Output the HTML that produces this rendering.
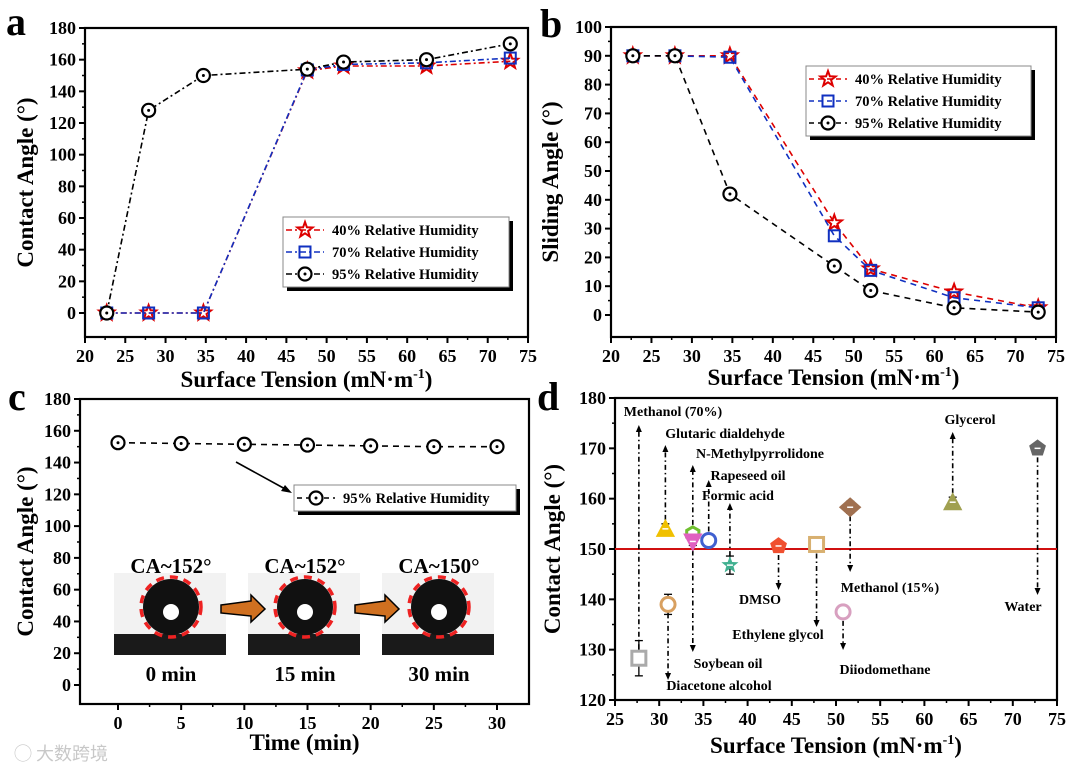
<!DOCTYPE html>
<html><head><meta charset="utf-8"><style>
body{margin:0;background:#fff;width:1080px;height:772px;overflow:hidden}
svg{display:block;font-family:"Liberation Serif","Noto Serif CJK SC",serif;font-weight:bold}
</style></head><body>
<svg id="fig" width="1080" height="772" viewBox="0 0 1080 772"></svg>
<script>
// ---- data ----
const tensionA=[22.7,27.9,34.7,47.6,52.1,62.4,72.8];
const caA40=[0,0,0,153,156,156,159];
const caA70=[0,0,0,153.5,157,158,161];
const caA95=[0,128,150,154,158.5,160,170];
const tensionB=[22.7,27.9,34.7,47.6,52.1,62.4,72.8];
const saB40=[90,90,90,32,16,8,2.5];
const saB70=[90,90,89.5,27.5,15.5,6,2.5];
const saB95=[90,90,42,17,8.5,2.5,1];
const timeC=[0,5,10,15,20,25,30];
const caC95=[152.5,152,151.5,151,150.5,150,150];
const liquidsD=["Methanol (70%)","Glutaric dialdehyde","Diacetone alcohol","N-Methylpyrrolidone","Soybean oil","Rapeseed oil","Formic acid","DMSO","Ethylene glycol","Methanol (15%)","Diiodomethane","Glycerol","Water"];
const tensionD=[27.7,30.7,31.0,33.8,33.8,35.6,38.0,43.5,47.8,51.6,50.8,63.2,72.8];
const caD=[128.3,154,139,153,151.5,151.7,146.8,150.6,150.9,158.3,137.5,159.3,170];
const errD=[3.5,1,2,0.8,0.8,0.6,1.8,0.6,1.2,1.2,1.3,1,0.5];
const ticksA=[0,20,40,60,80,100,120,140,160,180];
const ticksB=[0,10,20,30,40,50,60,70,80,90,100];
const ticksX=[20,25,30,35,40,45,50,55,60,65,70,75];
const ticksXD=[25,30,35,40,45,50,55,60,65,70,75];
const ticksYD=[120,130,140,150,160,170,180];
const ticksXC=[0,5,10,15,20,25,30];

const svg=document.getElementById('fig');
const NS='http://www.w3.org/2000/svg';
function el(tag,attrs,parent,text){const e=document.createElementNS(NS,tag);for(const k in attrs)e.setAttribute(k,attrs[k]);if(text!==undefined)e.textContent=text;(parent||svg).appendChild(e);return e;}
function lin(d0,d1,p0,p1){return v=>p0+(v-d0)*(p1-p0)/(d1-d0);}

function marker(g,type,x,y,color,fill){
  const s=6.5;let m;
  if(type==='circle'){m=el('g',{},g);
    el('circle',{cx:x,cy:y,r:s,fill:'#fff',stroke:color,'stroke-width':2.2},m);
    el('circle',{cx:x,cy:y,r:1.5,fill:color},m);}
  else if(type==='square'){m=el('rect',{x:x-s+1,y:y-s+1,width:2*s-2,height:2*s-2,fill:fill||'none',stroke:color,'stroke-width':2},g);}
  else if(type==='star'){let p=[];for(let i=0;i<10;i++){const r=i%2?3.3:8,a=-Math.PI/2+i*Math.PI/5;p.push((x+r*Math.cos(a)).toFixed(1)+','+(y+r*Math.sin(a)).toFixed(1));}
    m=el('polygon',{points:p.join(' '),fill:'none',stroke:color,'stroke-width':2},g);}
  return m;
}

function axes(o){
  const g=el('g',{},svg);
  
  
  el('rect',{x:o.x0,y:o.y0,width:o.x1-o.x0,height:o.y1-o.y0,fill:'none',stroke:'#000','stroke-width':2.2},g);
  o.xt.forEach((t,i)=>{const x=o.sx(t);el('line',{x1:x,y1:o.y1,x2:x,y2:o.y1+6,stroke:'#000','stroke-width':2},g);
    if(i<o.xt.length-1){const xm=o.sx(t+(o.xt[1]-o.xt[0])/2);el('line',{x1:xm,y1:o.y1,x2:xm,y2:o.y1+3,stroke:'#000','stroke-width':1.5},g);}
    el('text',{x:x,y:o.y1+25,'text-anchor':'middle','font-size':18},g,t);});
  o.yt.forEach((t,i)=>{const y=o.sy(t);el('line',{x1:o.x0,y1:y,x2:o.x0-6,y2:y,stroke:'#000','stroke-width':2},g);
    if(i<o.yt.length-1){const ym=o.sy(t+(o.yt[1]-o.yt[0])/2);el('line',{x1:o.x0,y1:ym,x2:o.x0-3,y2:ym,stroke:'#000','stroke-width':1.5},g);}
    el('text',{x:o.x0-9,y:y+6,'text-anchor':'end','font-size':18},g,t);});
  const xt=el('text',{x:(o.x0+o.x1)/2,y:o.xty,'text-anchor':'middle','font-size':23},g);
  
  
  xt.innerHTML=o.xtitle;
  const yt=el('text',{x:o.ytx,y:(o.y0+o.y1)/2,'text-anchor':'middle','font-size':23,transform:`rotate(-90 ${o.ytx} ${(o.y0+o.y1)/2})`},g,o.ytitle);
  
  
  const pl=el('text',{x:o.lx,y:o.ly,'font-size':40},g,o.letter);
  
  
}
const ST='Surface Tension (mN·m<tspan dy="-9" font-size="14">-1</tspan><tspan dy="9">)</tspan>';

function series(xs,ys,sx,sy,color,dash,type,name){
  const g=el('g',{},svg);
  
  
  const pts=[];xs.forEach((x,i)=>{if(ys[i]!==null)pts.push([sx(x),sy(ys[i])]);});
  el('polyline',{points:pts.map(p=>p.join(',')).join(' '),fill:'none',stroke:color,'stroke-width':1.6,'stroke-dasharray':dash},g);
  pts.forEach(p=>{const m=marker(g,type,p[0],p[1],color);
    
    });
}
function legend(x,y,w,entries,dash,name){
  const g=el('g',{},svg);
  
  
  const h=entries.length*22+4;
  el('rect',{x:x+4,y:y+4,width:w,height:h,fill:'#000'},g);
  el('rect',{x:x,y:y,width:w,height:h,fill:'#fff',stroke:'#888','stroke-width':1},g);
  entries.forEach((e,i)=>{const yy=y+13+i*22;
    el('line',{x1:x+3,y1:yy,x2:x+41,y2:yy,stroke:e[1],'stroke-width':1.6,'stroke-dasharray':dash},g);
    marker(g,e[2],x+22,yy,e[1]);
    const t=el('text',{x:x+49,y:yy+5,'font-size':14.5},g,e[0]);
    
    });
}

// ---- panel a ----
const axSX=lin(20,75,85,528), aSY=lin(0,180,313,28);
axes({name:'panel-a',x0:85,x1:528,y0:28,y1:337,sx:axSX,sy:aSY,xt:ticksX,yt:ticksA,xtitle:ST,ytitle:'Contact Angle (°)',xty:387,ytx:33,letter:'a',lx:6,ly:35});
series(tensionA,caA40,axSX,aSY,'#d00','6,3,2,3','star','series-a-40');
series(tensionA,caA70,axSX,aSY,'#1030c0','6,3,2,3','square','series-a-70');
series(tensionA,caA95,axSX,aSY,'#000','6,3,2,3','circle','series-a-95');
legend(283,217,226,[['40% Relative Humidity','#d00','star'],['70% Relative Humidity','#1030c0','square'],['95% Relative Humidity','#000','circle']],'6,3,2,3','legend-a');

// ---- panel b ----
const bSX=lin(20,75,611,1056), bSY=lin(0,100,315,27);
axes({name:'panel-b',x0:611,x1:1056,y0:27,y1:337,sx:bSX,sy:bSY,xt:ticksX,yt:ticksB,xtitle:ST,ytitle:'Sliding Angle (°)',xty:385,ytx:558,letter:'b',lx:540,ly:37});
series(tensionB,saB40,bSX,bSY,'#d00','6,5','star','series-b-40');
series(tensionB,saB70,bSX,bSY,'#1030c0','6,5','square','series-b-70');
series(tensionB,saB95,bSX,bSY,'#000','6,5','circle','series-b-95');
legend(806,66,225,[['40% Relative Humidity','#d00','star'],['70% Relative Humidity','#1030c0','square'],['95% Relative Humidity','#000','circle']],'5,4','legend-b');

// ---- panel c ----
const cSX=lin(0,30,118,497), cSY=lin(0,180,685,399);
axes({name:'panel-c',x0:80,x1:529,y0:399,y1:704,sx:cSX,sy:cSY,xt:ticksXC,yt:ticksA,xtitle:'Time (min)',ytitle:'Contact Angle (°)',xty:750,ytx:33,letter:'c',lx:8,ly:410});
series(timeC,caC95,cSX,cSY,'#000','6,5','circle','series-c-95');
el('line',{x1:236,y1:462,x2:287,y2:490,stroke:'#000','stroke-width':1.6});
el('polygon',{points:'292,493 281,491 285,485',fill:'#000'});
legend(294,485,222,[['95% Relative Humidity','#000','circle']],'5,4','legend-c');
// droplet images
const imgX=[114,248,382];
[[114,'CA~152°','0 min'],[248,'CA~152°','15 min'],[382,'CA~150°','30 min']].forEach((d,i)=>{
  const g=el('g',{},svg);
  
  
  const x=d[0];
  el('rect',{x:x,y:573,width:112,height:82,fill:'#f2f2f2'},g);
  el('rect',{x:x,y:634,width:112,height:21,fill:'#1a1a1a'},g);
  el('circle',{cx:x+57,cy:607,r:28,fill:'#111'},g);
  el('circle',{cx:x+57,cy:612,r:8,fill:'#fff'},g);
  el('circle',{cx:x+57,cy:607,r:30,fill:'none',stroke:'#e22','stroke-width':3.5,'stroke-dasharray':'8,6'},g);
  el('text',{x:x+57,y:573,'text-anchor':'middle','font-size':21},g,d[1]);
  el('text',{x:x+57,y:681,'text-anchor':'middle','font-size':21},g,d[2]);
});
[0,1].forEach(i=>{const x=imgX[i];
  const a=el('polygon',{points:`${x+107},605 ${x+137},601 ${x+137},595 ${x+151},609 ${x+137},622 ${x+137},616 ${x+107},613`,fill:'#d07020',stroke:'#000','stroke-width':1.5});
  
  
});

// ---- panel d ----
const dSX=lin(25,75,615,1057), dSY=lin(120,180,700,398);
axes({name:'panel-d',x0:615,x1:1057,y0:398,y1:700,sx:dSX,sy:dSY,xt:ticksXD,yt:ticksYD,xtitle:ST,ytitle:'Contact Angle (°)',xty:753,ytx:560,letter:'d',lx:537,ly:410});
el('line',{x1:615,y1:dSY(150),x2:1057,y2:dSY(150),stroke:'#d01010','stroke-width':2});
const colorsD=['#aaa','#f0c000','#d8a060','#70c030','#e060c0','#4060d0','#40b090','#f05030','#d8b070','#a07050','#d8a0c0','#a0a050','#666'];
const shapesD=['sq','tri','circ','hex','dtri','circ','star','pent','sq','dia','circ','tri','pent'];
const labelPos=[[673,416,639,425],[725,438,665,445],[719,690,668,680],[760,458,693,465],[728,668,693,652],[748,480,710,480],[738,500,730,503],[760,604,778,590],[778,639,816,627],[890,592,850,572],[885,674,843,650],[970,424,953,432],[1023,611,1037,595]];
liquidsD.forEach((n,i)=>{
  const g=el('g',{},svg);
  
  
  const x=dSX(tensionD[i]),y=dSY(caD[i]),c=colorsD[i],s=7;
  const lp=labelPos[i];
  const up=lp[3]<y;
  el('line',{x1:x,y1:y+(up?-9:9),x2:x,y2:lp[3]+(up?6:-6),stroke:'#000','stroke-width':1.6,'stroke-dasharray':'5,3,1.5,3'},g);
  el('polygon',{points:up?`${x-3},${lp[3]+7} ${x+3},${lp[3]+7} ${x},${lp[3]}`:`${x-3},${lp[3]-7} ${x+3},${lp[3]-7} ${x},${lp[3]}`,fill:'#000'},g);
  const ey1=dSY(caD[i]+errD[i]),ey2=dSY(caD[i]-errD[i]);
  el('line',{x1:x,y1:ey1,x2:x,y2:ey2,stroke:'#000','stroke-width':1.3},g);
  el('line',{x1:x-4,y1:ey1,x2:x+4,y2:ey1,stroke:'#000','stroke-width':1.3},g);
  el('line',{x1:x-4,y1:ey2,x2:x+4,y2:ey2,stroke:'#000','stroke-width':1.3},g);
  let sh=shapesD[i];
  if(sh==='sq')el('rect',{x:x-s,y:y-s,width:2*s,height:2*s,fill:'#fff',stroke:c,'stroke-width':3},g);
  else if(sh==='tri')el('polygon',{points:`${x},${y-s-1} ${x+s+1},${y+s} ${x-s-1},${y+s}`,fill:c,stroke:c,'stroke-width':2},g);
  else if(sh==='dtri')el('polygon',{points:`${x},${y+s+1} ${x+s+1},${y-s} ${x-s-1},${y-s}`,fill:c,stroke:c,'stroke-width':2},g);
  else if(sh==='dia')el('polygon',{points:`${x},${y-s-1} ${x+s+2},${y} ${x},${y+s+1} ${x-s-2},${y}`,fill:c,stroke:c,'stroke-width':3},g);
  else if(sh==='star'){let p=[];for(let k=0;k<10;k++){const r=k%2?3.8:9,a=-Math.PI/2+k*Math.PI/5;p.push((x+r*Math.cos(a)).toFixed(1)+','+(y+r*Math.sin(a)).toFixed(1));}el('polygon',{points:p.join(' '),fill:c},g);}
  else if(sh==='pent'||sh==='hex'){const nn=sh==='pent'?5:6;let p=[];for(let k=0;k<nn;k++){const a=-Math.PI/2+k*2*Math.PI/nn;p.push((x+s*Math.cos(a)).toFixed(1)+','+(y+s*Math.sin(a)).toFixed(1));}el('polygon',{points:p.join(' '),fill:sh==='pent'?c:'#fff',stroke:c,'stroke-width':3},g);}
  else el('circle',{cx:x,cy:y,r:s,fill:'#fff',stroke:c,'stroke-width':3},g);
  el('line',{x1:x-3,y1:y,x2:x+3,y2:y,stroke:'#fff','stroke-width':1.5},g);
  const t=el('text',{x:lp[0],y:lp[1],'text-anchor':'middle','font-size':14},g,n);
  
  
});
const wm=el('text',{x:14,y:760,'font-size':18,fill:'#c8c8c8','font-family':'"Noto Sans CJK SC",sans-serif','font-weight':'normal'},svg,'◯ 大数跨境');


</script>
</body></html>
